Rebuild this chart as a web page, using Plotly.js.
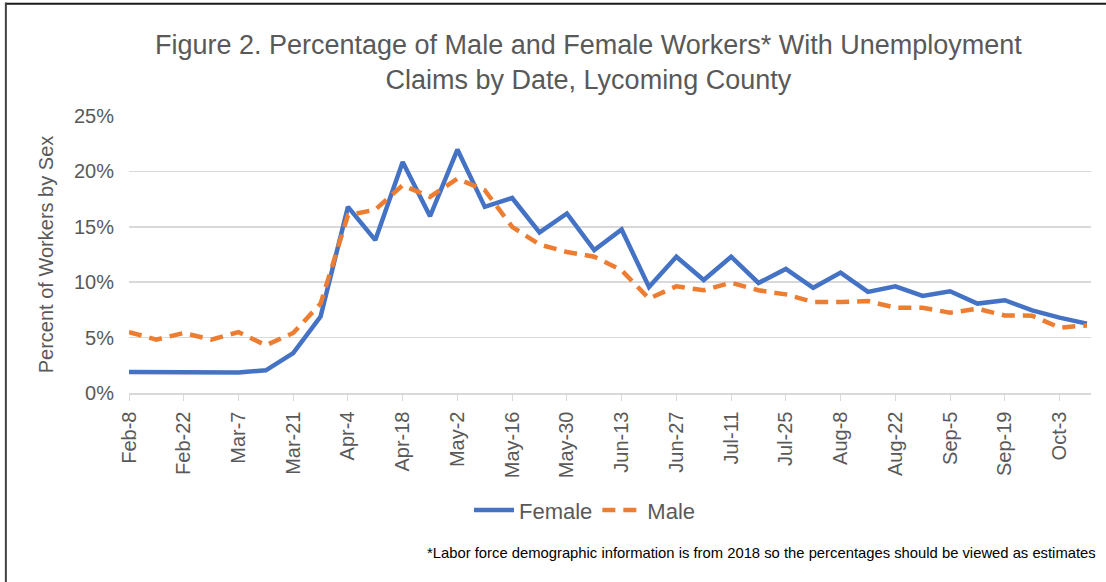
<!DOCTYPE html>
<html>
<head>
<meta charset="utf-8">
<script src="https://cdn.plot.ly/plotly-3.0.1.min.js"></script>
<style>html,body{margin:0;padding:0;background:#fff}#chart{width:1106px;height:582px}</style>
</head>
<body>
<div id="chart"></div>
<script>
var dates = ["Feb-8","Feb-15","Feb-22","Feb-29","Mar-7","Mar-14","Mar-21","Mar-28","Apr-4","Apr-11","Apr-18","Apr-25","May-2","May-9","May-16","May-23","May-30","Jun-6","Jun-13","Jun-20","Jun-27","Jul-4","Jul-11","Jul-18","Jul-25","Aug-1","Aug-8","Aug-15","Aug-22","Aug-29","Sep-5","Sep-12","Sep-19","Sep-26","Oct-3","Oct-10"];
var female = [1.9,1.9,1.9,1.9,1.85,2.05,3.6,6.9,16.8,13.8,20.85,15.95,21.97,16.8,17.6,14.5,16.2,12.9,14.75,9.57,12.3,10.2,12.3,9.93,11.2,9.5,10.87,9.12,9.63,8.76,9.18,8.07,8.37,7.46,6.8,6.26];
var male = [5.5,4.82,5.42,4.82,5.5,4.3,5.42,8.07,16.04,16.55,18.75,17.7,19.35,18.3,15.0,13.4,12.73,12.3,11.07,8.52,9.63,9.27,9.96,9.27,8.9,8.21,8.21,8.3,7.7,7.7,7.25,7.6,7.0,6.98,5.9,6.1];
var tickLabels = dates.filter(function(d,i){return i%2===0;});
var titleText = "Figure 2. Percentage of Male and Female Workers* With Unemployment<br>Claims by Date, Lycoming County";
var footnote = "*Labor force demographic information is from 2018 so the percentages should be viewed as estimates";

var grey = "#595959";
var traces = [
  {x: dates, y: female, name: "Female", type: "scatter", mode: "lines",
   line: {color: "#4472C4", width: 4.5}},
  {x: dates, y: male, name: "Male", type: "scatter", mode: "lines",
   line: {color: "#ED7D31", width: 4.5, dash: "13px,8px"}}
];
var layout = {
  width: 1106, height: 582,
  paper_bgcolor: "#fff", plot_bgcolor: "#fff",
  margin: {l: 129, r: 15, t: 116, b: 189},
  font: {family: "Liberation Sans, Arial, sans-serif", color: grey},
  title: {text: titleText, xref: "container", yref: "container", x: 0.532, xanchor: "center",
          y: 0.907, yanchor: "middle", font: {size: 27, color: grey, family: "Liberation Sans, Arial, sans-serif"}},
  xaxis: {type: "category", range: [0, 35.15], tickmode: "array", tickvals: tickLabels, ticktext: tickLabels,
          tickangle: -90, tickfont: {size: 20, color: grey}, showgrid: false, showline: true,
          linecolor: "#d9d9d9", linewidth: 1.5, ticks: "outside", ticklen: 6, tickcolor: "#d9d9d9",
          ticklabelstandoff: 3, zeroline: false, fixedrange: true},
  yaxis: {range: [0, 25], dtick: 5, ticksuffix: "%", tickfont: {size: 20, color: grey},
          gridcolor: "#d9d9d9", gridwidth: 1.5, zeroline: false, showline: false,
          ticklabelstandoff: 14,
          title: {text: "Percent of Workers by Sex", font: {size: 20, color: grey}, standoff: 14},
          fixedrange: true},
  legend: {orientation: "h", x: 0.474, xanchor: "center", y: -0.423, yanchor: "middle",
           font: {size: 22, color: grey}, itemwidth: 40, bgcolor: "rgba(0,0,0,0)"},
  showlegend: true,
  annotations: [{text: footnote, xref: "paper", yref: "paper", x: 1.0073, xanchor: "right",
                 y: -0.579, yanchor: "middle", showarrow: false, font: {size: 14.8, color: "#000"}}],
  shapes: [
    {type: "line", xref: "paper", yref: "paper", x0: -0.128, x1: 1.02, y0: 1.405, y1: 1.405,
     line: {color: "#1a1a1a", width: 2}},
    {type: "line", xref: "paper", yref: "paper", x0: -0.128, x1: -0.128, y0: 1.41, y1: -0.7,
     line: {color: "#404040", width: 2}}
  ]
};
Plotly.newPlot("chart", traces, layout, {displayModeBar: false, staticPlot: true});
</script>
</body>
</html>
